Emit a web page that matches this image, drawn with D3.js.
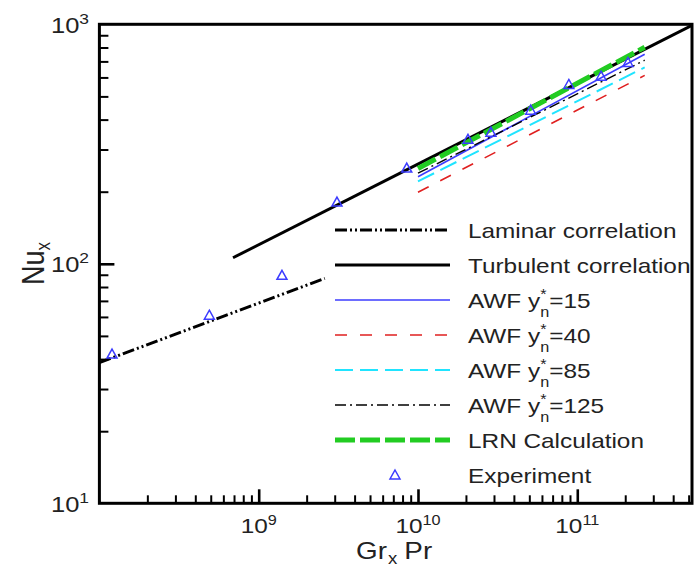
<!DOCTYPE html>
<html><head><meta charset="utf-8">
<script src="https://cdn.jsdelivr.net/npm/d3@7"></script>
<style>
html,body{margin:0;padding:0;background:#fff;}
svg{display:block;font-family:"Liberation Sans",Arial,sans-serif;}
</style></head>
<body>
<svg id="c" width="697" height="568"></svg>
<script>
// ---------- data ----------
const laminarX = [1.0e8, 2.6e9];
const laminarY = [38.7, 86.9];
const turbulentX = [6.9e8, 5.25e11];
const turbulentY = [106, 990];
const awfX = [1.0e10, 2.65e11];
const awf15Y = [231, 750];
const awf40Y = [199, 612];
const awf85Y = [221, 661];
const awf125Y = [239, 708];
const lrnY = [250, 802];
const expX = [1.2e8, 4.9e8, 1.4e9, 3.1e9, 8.5e9, 2.06e10, 2.87e10, 5.1e10, 8.85e10, 1.41e11, 2.08e11];
const expY = [42, 61, 89.5, 181, 251, 331, 354, 438, 561, 607, 693];
const xMajorTicks = [1e9, 1e10, 1e11];
const xMajorExp = ["9", "10", "11"];
const yMajorTicks = [10, 100, 1000];
const yMajorExp = ["1", "2", "3"];
const legendLabels = ["Laminar correlation", "Turbulent correlation", "AWF", "AWF", "AWF", "AWF", "LRN Calculation", "Experiment"];
const awfYn = ["15", "40", "85", "125"];

// ---------- layout ----------
const L = 99.4, R = 692, T = 24.3, B = 503.3;
const SX = 1.16; // horizontal stretch of text in original figure
const svg = d3.select("#c");
const x = d3.scaleLog().domain([1e8, 5.25e11]).range([L, R]);
const y = d3.scaleLog().domain([10, 1000]).range([B, T]);

svg.append("defs").append("clipPath").attr("id","clip")
  .append("rect").attr("x",L).attr("y",T).attr("width",R-L).attr("height",B-T);

// minor ticks
const xMinor = [];
for (let e = 8; e <= 11; e++) for (let m = 2; m <= 9; m++) { const v = m*Math.pow(10,e); if (v < 5.25e11) xMinor.push(v); }
const yMinor = [];
for (let e = 1; e <= 2; e++) for (let m = 2; m <= 9; m++) yMinor.push(m*Math.pow(10,e));

function axisG(axis, tr, w){
  const g = svg.append("g").attr("transform", tr).call(axis);
  g.select(".domain").remove();
  g.selectAll(".tick line").attr("stroke","#000").attr("stroke-width",w);
  g.selectAll(".tick text").remove();
  return g;
}
axisG(d3.axisBottom(x).tickValues(xMinor).tickSize(-8).tickFormat(""), `translate(0,${B})`, 2);
axisG(d3.axisBottom(x).tickValues(xMajorTicks).tickSize(-14).tickFormat(""), `translate(0,${B})`, 2.6);
axisG(d3.axisLeft(y).tickValues(yMinor).tickSize(-9).tickFormat(""), `translate(${L},0)`, 2);
axisG(d3.axisLeft(y).tickValues([100]).tickSize(-15).tickFormat(""), `translate(${L},0)`, 2.6);

// tick labels
xMajorTicks.forEach((v,i)=>{
  const g = svg.append("g").attr("transform",`translate(${x(v)},533) scale(${SX},1)`);
  const t = g.append("text").attr("text-anchor","middle").attr("font-size",21).attr("fill","#222");
  t.append("tspan").text("10");
  t.append("tspan").attr("font-size",14).attr("dy",-8).text(xMajorExp[i]);
});
yMajorTicks.forEach((v,i)=>{
  const g = svg.append("g").attr("transform",`translate(89,${y(v)+8.5}) scale(${SX},1)`);
  const t = g.append("text").attr("text-anchor","end").attr("font-size",22).attr("fill","#222");
  t.append("tspan").text("10");
  t.append("tspan").attr("font-size",15).attr("dy",-9).text(yMajorExp[i]);
});

// axis titles
{
  const g = svg.append("g").attr("transform",`translate(356,559) scale(${SX},1)`);
  const t = g.append("text").attr("font-size",24).attr("fill","#222");
  t.append("tspan").text("Gr");
  t.append("tspan").attr("font-size",16).attr("dy",5).attr("dx",1).text("x");
  t.append("tspan").attr("dy",-5).attr("dx",6).text("Pr");
}
{
  const g = svg.append("g").attr("transform",`translate(43.5,0) scale(${SX},1) rotate(-90)`);
  const t = g.append("text").attr("x",-285).attr("y",0).attr("font-size",27).attr("fill","#222");
  t.append("tspan").text("Nu");
  t.append("tspan").attr("font-size",17).attr("dy",6).text("x");
}

// series styles
const series = [
  {xs: laminarX, ys: laminarY, color:"#000", w:3, dash:"12,3,2,3,2,3"},
  {xs: turbulentX, ys: turbulentY, color:"#000", w:3, dash:null},
  {xs: awfX, ys: awf15Y, color:"#3c3cff", w:1.6, dash:null},
  {xs: awfX, ys: awf40Y, color:"#e02020", w:1.6, dash:"12,13"},
  {xs: awfX, ys: awf85Y, color:"#20e4ff", w:2, dash:"18,7"},
  {xs: awfX, ys: awf125Y, color:"#000", w:1.4, dash:"11,4,2,4"},
  {xs: awfX, ys: lrnY, color:"#22cc22", w:5, dash:"20,5"},
];
const plot = svg.append("g").attr("clip-path","url(#clip)");
const line = d3.line().x(d=>x(d[0])).y(d=>y(d[1]));
series.forEach(s=>{
  const pts = s.xs.map((v,i)=>[v, s.ys[i]]);
  const p = plot.append("path").attr("d", line(pts)).attr("fill","none")
    .attr("stroke", s.color).attr("stroke-width", s.w);
  if (s.dash) p.attr("stroke-dasharray", s.dash);
});
// experiment markers
const tri = "M0,-5L5,4L-5,4Z";
expX.forEach((v,i)=>{
  plot.append("path").attr("d",tri).attr("transform",`translate(${x(v)},${y(expY[i])})`)
    .attr("fill","none").attr("stroke","#3c3cff").attr("stroke-width",1.5);
});

// legend
const legY0 = 230, legStep = 35, lx0 = 335, lx1 = 450, tx = 468;
const leg = svg.append("g").attr("clip-path","url(#clip)");
legendLabels.forEach((lab,i)=>{
  const yy = legY0 + i*legStep;
  if (i < series.length) {
    const s = series[i];
    const p = leg.append("line").attr("x1",lx0).attr("x2",lx1).attr("y1",yy).attr("y2",yy)
      .attr("stroke",s.color).attr("stroke-width",s.w);
    if (s.dash) p.attr("stroke-dasharray", s.dash);
  } else {
    leg.append("path").attr("d",tri).attr("transform",`translate(395,${yy})`)
      .attr("fill","none").attr("stroke","#3c3cff").attr("stroke-width",1.5);
  }
  const g = leg.append("g").attr("transform",`translate(${tx},${yy+8}) scale(${SX},1)`);
  const t = g.append("text").attr("font-size",21).attr("fill","#222");
  if (i >= 2 && i <= 5) {
    t.append("tspan").text("AWF y");
    t.append("tspan").attr("font-size",14).attr("dy",9).text("n");
    t.append("tspan").attr("font-size",14).attr("dx",-7.8).attr("dy",-18).text("*");
    t.append("tspan").attr("dx",2.4).attr("dy",9).text("=" + awfYn[i-2]);
  } else {
    t.text(lab);
  }
});

// frame
svg.append("rect").attr("x",L).attr("y",T).attr("width",R-L).attr("height",B-T)
  .attr("fill","none").attr("stroke","#000").attr("stroke-width",3);
</script>
</body></html>
